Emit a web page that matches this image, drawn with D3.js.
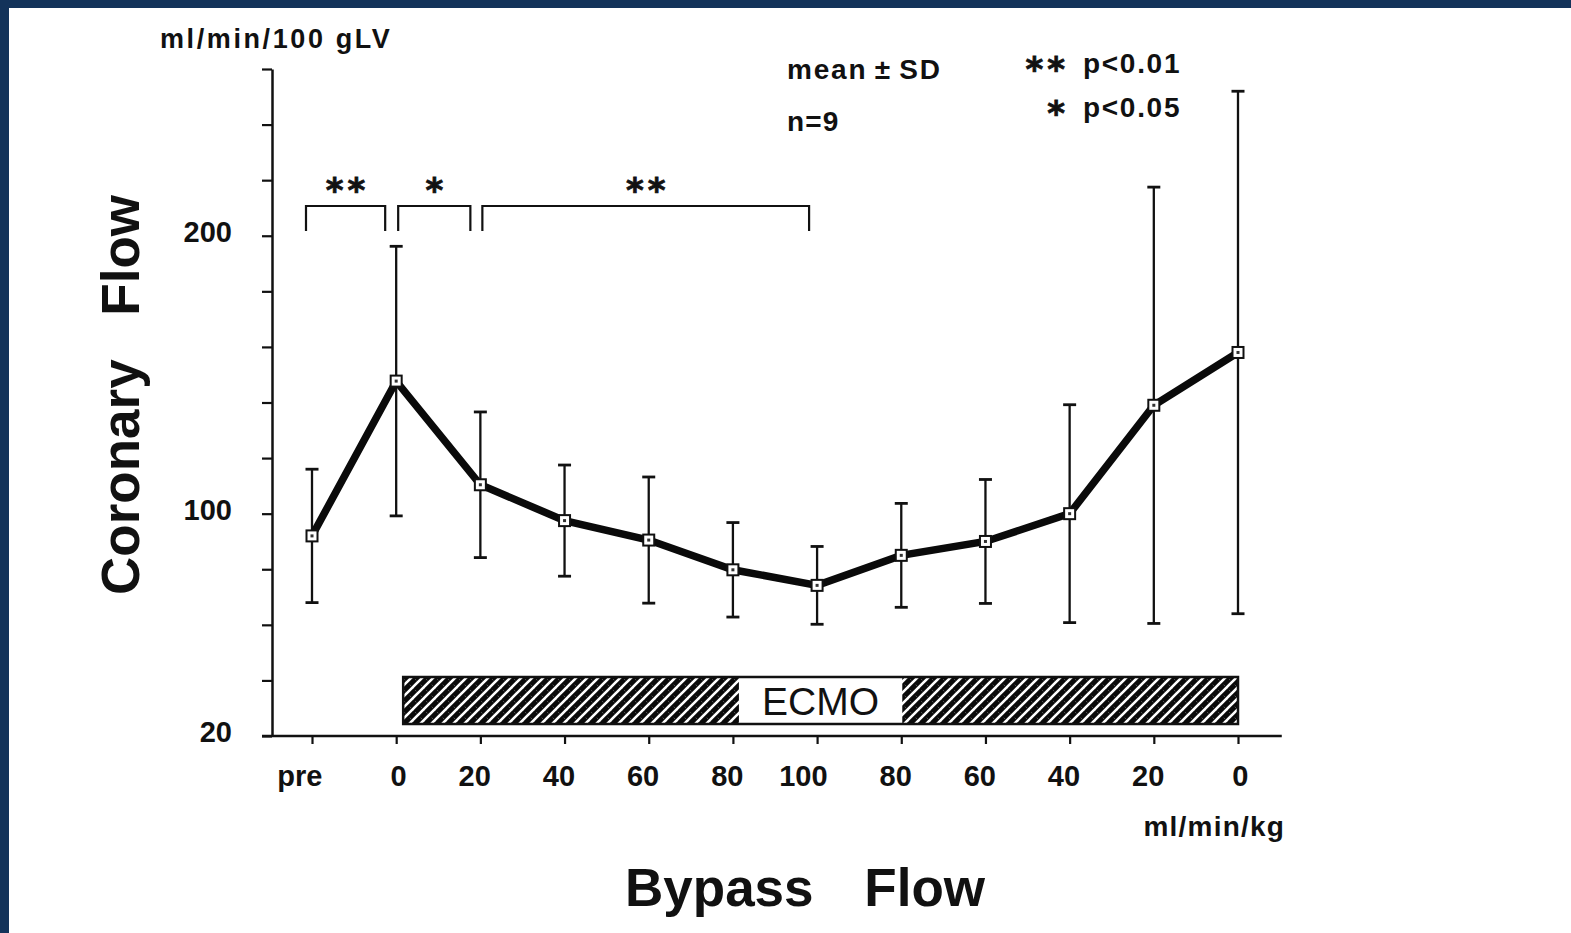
<!DOCTYPE html>
<html><head><meta charset="utf-8">
<script src="https://cdn.jsdelivr.net/npm/d3@7"></script>
<style>
html,body{margin:0;padding:0;background:#fff;}
svg{display:block;}
text{font-family:"Liberation Sans",Arial,Helvetica,sans-serif;fill:#111;}
</style></head><body>
<svg id="chart" width="1571" height="933"></svg>
<script>
// ---- data ----
const categories = ["pre","0","20","40","60","80","100","80","60","40","20","0"];
const meanFlow   = [92, 147.7, 110.4, 97.5, 90.5, 79.8, 74.2, 85, 90, 100, 139, 158];
const sdFlow     = [24, 48.5, 26.2, 20, 22.7, 17, 14, 18.7, 22.3, 39.2, 78.5, 94];
const yTicks     = [20,40,60,80,100,120,140,160,180,200,220,240,260];
const yLabelled  = [20,100,200];
const bracketFrom  = [0,1,2];
const bracketTo    = [1,2,6];
const bracketMarks = ["**","*","**"];
const ecmoStart = 1, ecmoEnd = 11, ecmoGapFrom = 5, ecmoGapTo = 7;
const ecmoLabel = "ECMO";
const yUnit = "ml/min/100 gLV";
const xUnit = "ml/min/kg";
const yTitleWords = ["Coronary","Flow"];
const xTitleWords = ["Bypass","Flow"];
const noteLines = ["mean\u2009\u00B1\u2009SD","n=9"];
const sigMarks = ["**","*"];
const sigText = ["p<0.01","p<0.05"];

// ---- drawing ----
const svg = d3.select("#chart");
const navy = "#13335a";
svg.append("rect").attr("x",0).attr("y",0).attr("width",1571).attr("height",8).attr("fill",navy);
svg.append("rect").attr("x",0).attr("y",0).attr("width",9).attr("height",933).attr("fill",navy);

const x = d3.scalePoint().domain(d3.range(categories.length)).range([312,1238]);
const y = d3.scaleLinear().domain([20,260]).range([736,69]);
const axisX = 272;
const base = y(20);

// hatch pattern
const defs = svg.append("defs");
const pat = defs.append("pattern").attr("id","hatch").attr("patternUnits","userSpaceOnUse")
  .attr("width",11).attr("height",11);
pat.append("rect").attr("width",11).attr("height",11).attr("fill","#0a0a0a");
pat.append("path").attr("d","M-3,14 L14,-3 M-3,3 L3,-3 M8,14 L14,8")
  .attr("stroke","#fff").attr("stroke-width",2.6);
pat.append("path").attr("d","M0,0 L11,11").attr("stroke","#fff").attr("stroke-width",0.8)
  .attr("stroke-dasharray","1,3").attr("opacity",0.7);

// Y axis
const yAxis = d3.axisLeft(y).tickValues(yTicks).tickSize(10).tickSizeOuter(0).tickPadding(30)
  .tickFormat(d => yLabelled.includes(d) ? String(d) : "");
const gy = svg.append("g").attr("transform",`translate(${axisX},0)`).call(yAxis);
gy.select(".domain").attr("stroke","#111").attr("stroke-width",2.5);
gy.selectAll(".tick line").attr("stroke","#111").attr("stroke-width",2.2);
gy.selectAll(".tick text").attr("font-size",29).attr("font-weight","bold").attr("fill","#111")
  .attr("dy","0.2em");

// X axis
const xAxis = d3.axisBottom(x).tickSize(8).tickSizeOuter(0).tickPadding(21)
  .tickFormat(i => categories[i]);
const gx = svg.append("g").attr("transform",`translate(0,${base})`).call(xAxis);
gx.select(".domain").remove();
gx.selectAll(".tick line").attr("stroke","#111").attr("stroke-width",2.2);
gx.selectAll(".tick text").attr("font-size",29).attr("font-weight","bold").attr("fill","#111")
  .attr("text-anchor","end").attr("x",10);
svg.append("line").attr("x1",axisX-10).attr("x2",x(categories.length-1)+x.step()*0.52)
  .attr("y1",base).attr("y2",base).attr("stroke","#111").attr("stroke-width",2.5);

// units
svg.append("text").attr("x",160).attr("y",48).attr("font-size",27).attr("font-weight","bold")
  .attr("letter-spacing",2.6).text(yUnit);
svg.append("text").attr("x",1285).attr("y",836).attr("font-size",28).attr("font-weight","bold")
  .attr("text-anchor","end").attr("letter-spacing",1.2).text(xUnit);

// titles
svg.append("text").attr("x",625).attr("y",906).attr("font-size",53).attr("font-weight","bold")
  .text(xTitleWords[0]);
svg.append("text").attr("x",985).attr("y",906).attr("font-size",53).attr("font-weight","bold")
  .attr("text-anchor","end").text(xTitleWords[1]);
svg.append("text").attr("transform","translate(139,595) rotate(-90)").attr("text-anchor","start")
  .attr("font-size",53).attr("font-weight","bold").text(yTitleWords[0]);
svg.append("text").attr("transform","translate(139,195) rotate(-90)").attr("text-anchor","end")
  .attr("font-size",53).attr("font-weight","bold").text(yTitleWords[1]);

// notes
svg.append("text").attr("x",787).attr("y",79).attr("font-size",28).attr("font-weight","bold")
  .attr("letter-spacing",1.8).text(noteLines[0]);
svg.append("text").attr("x",787).attr("y",131).attr("font-size",28).attr("font-weight","bold")
  .attr("letter-spacing",1.2).text(noteLines[1]);
const sigY = [73,117];
const star = sel => sel.style("font-family","'DejaVu Sans',sans-serif").attr("font-size",34)
  .attr("font-weight","bold").attr("stroke","#111").attr("stroke-width",0.8);
sigMarks.forEach((m,i) => {
  star(svg.append("text").attr("x",1069).attr("y",sigY[i]+8).attr("text-anchor","end")
    .attr("letter-spacing",4).text(m));
  svg.append("text").attr("x",1083).attr("y",sigY[i]).attr("font-size",28).attr("font-weight","bold")
    .attr("letter-spacing",1.7).text(sigText[i]);
});

// brackets
const bTop = 206, bBot = 231;
const offL = [-6,2,2], offR = [-11,-10,-8];
bracketFrom.forEach((f,i) => {
  const x1 = x(f)+offL[i], x2 = x(bracketTo[i])+offR[i];
  svg.append("path").attr("d",`M${x1},${bBot} V${bTop} H${x2} V${bBot}`)
    .attr("fill","none").attr("stroke","#111").attr("stroke-width",2.2);
  star(svg.append("text").attr("x",(x1+x2)/2 + (bracketMarks[i].length>1?2:0)).attr("y",202)
    .attr("text-anchor","middle")
    .attr("letter-spacing",bracketMarks[i].length>1?4:0).text(bracketMarks[i]));
});

// ECMO bar
const eTop = base-59, eBot = base-12;
const eX1 = x(ecmoStart)+7, eX2 = x(ecmoEnd), gX1 = x(ecmoGapFrom)+6, gX2 = x(ecmoGapTo)+1;
svg.append("rect").attr("x",eX1).attr("y",eTop).attr("width",gX1-eX1).attr("height",eBot-eTop)
  .attr("fill","url(#hatch)");
svg.append("rect").attr("x",gX2).attr("y",eTop).attr("width",eX2-gX2).attr("height",eBot-eTop)
  .attr("fill","url(#hatch)");
svg.append("rect").attr("x",eX1).attr("y",eTop).attr("width",eX2-eX1).attr("height",eBot-eTop)
  .attr("fill","none").attr("stroke","#111").attr("stroke-width",2.5);
svg.append("text").attr("x",(gX1+gX2)/2).attr("y",eBot-9).attr("text-anchor","middle")
  .attr("font-size",39).text(ecmoLabel);

// error bars
const idx = d3.range(categories.length);
const eb = svg.append("g").attr("stroke","#111").attr("stroke-width",2.3);
idx.forEach(i => {
  const cx = x(i), t = y(meanFlow[i]+sdFlow[i]), b = y(meanFlow[i]-sdFlow[i]);
  eb.append("line").attr("x1",cx).attr("x2",cx).attr("y1",t).attr("y2",b);
  eb.append("line").attr("x1",cx-6.5).attr("x2",cx+6.5).attr("y1",t).attr("y2",t).attr("stroke-width",2.8);
  eb.append("line").attr("x1",cx-6.5).attr("x2",cx+6.5).attr("y1",b).attr("y2",b).attr("stroke-width",2.8);
});

// mean line
const line = d3.line().x(i => x(i)).y(i => y(meanFlow[i]));
svg.append("path").datum(idx).attr("d",line).attr("fill","none").attr("stroke","#0a0a0a")
  .attr("stroke-width",7.5).attr("stroke-linejoin","miter");

// markers
const mk = svg.append("g");
idx.forEach(i => {
  mk.append("rect").attr("x",x(i)-5.5).attr("y",y(meanFlow[i])-5.5).attr("width",11).attr("height",11)
    .attr("fill","#fff").attr("stroke","#111").attr("stroke-width",2);
  mk.append("rect").attr("x",x(i)-1.5).attr("y",y(meanFlow[i])-1.5).attr("width",3).attr("height",3)
    .attr("fill","#333");
});
</script>
</body></html>
